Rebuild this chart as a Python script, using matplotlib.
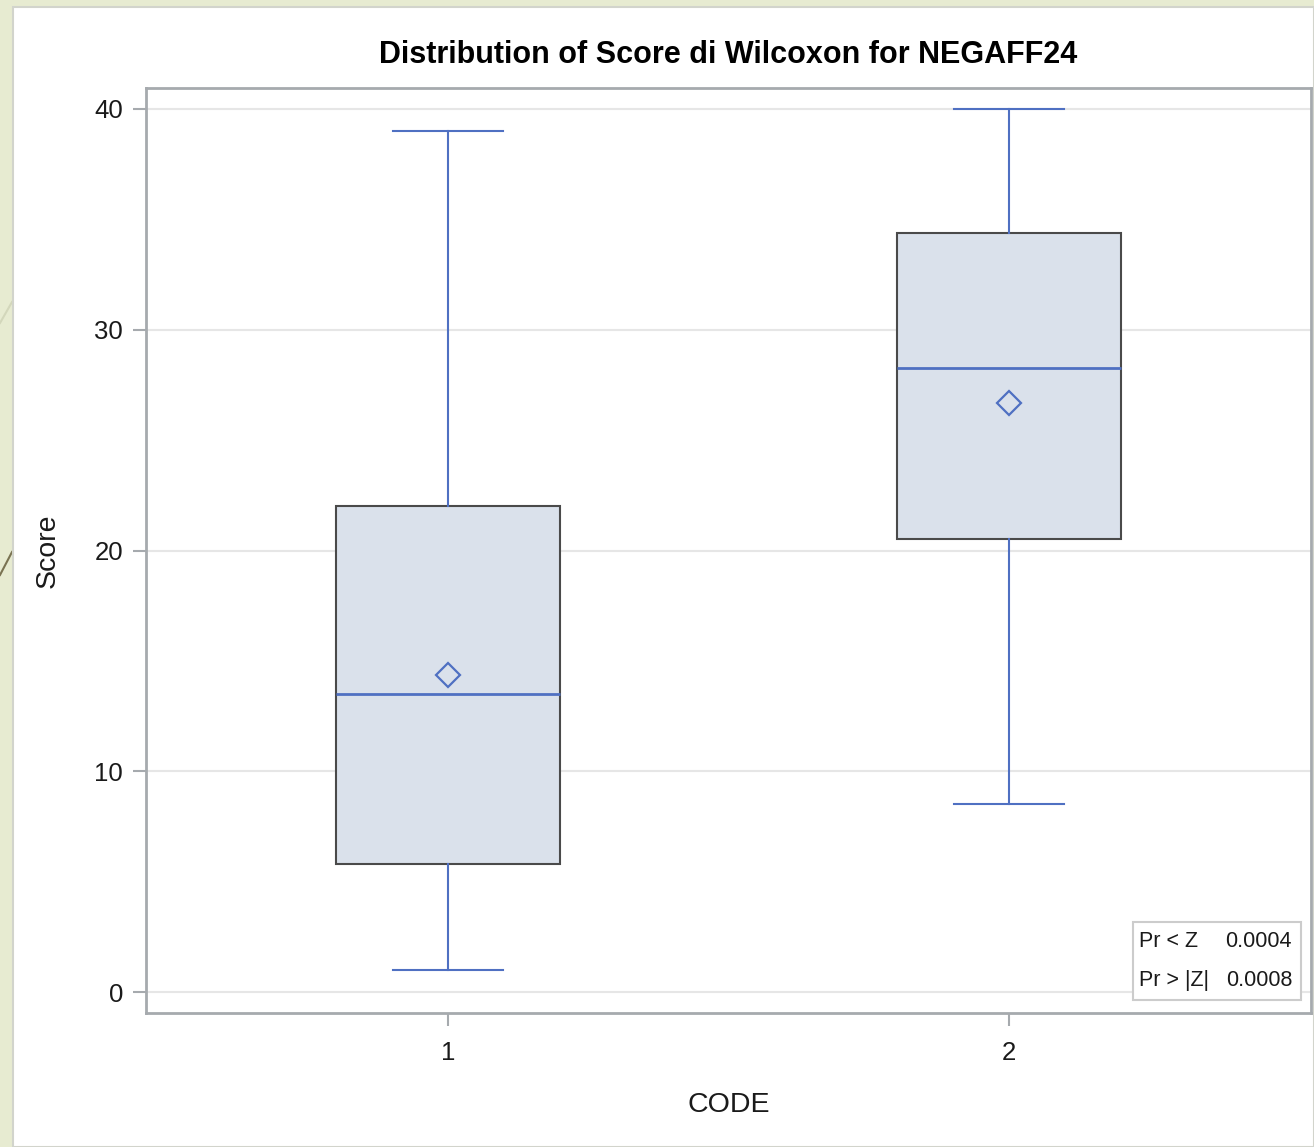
import matplotlib
matplotlib.use("Agg")
import matplotlib.pyplot as plt
from matplotlib.patches import Rectangle
from matplotlib.lines import Line2D

# Wilcoxon score summary per CODE group
codes = ["1", "2"]
whisker_low = [1.0, 8.5]
q1 = [5.8, 20.5]
median = [13.5, 28.25]
q3 = [22.0, 34.4]
whisker_high = [39.0, 40.0]
means = [14.35, 26.7]

# test statistics shown in the inset
p_labels = ["Pr < Z", "Pr > |Z|"]
p_values = [0.0004, 0.0008]

W, H = 1314, 1147
BLUE = "#4f70c2"
GREY = "#a6aaae"
INK = "#1a1a1a"

plt.rcParams["font.family"] = ["Liberation Sans", "DejaVu Sans"]

fig = plt.figure(figsize=(W / 100, H / 100), dpi=100)
fig.patch.set_facecolor("#e7ebd1")


def fx(x):
    return x / W


def fy(y):
    return 1 - y / H


# slide decoration on the left strip
fig.add_artist(Line2D([0, fx(12)], [fy(323), fy(302)], transform=fig.transFigure,
                      color="#d3d7bb", lw=1.5, zorder=0))
fig.add_artist(Line2D([0, fx(12)], [fy(575), fy(552)], transform=fig.transFigure,
                      color="#7a7352", lw=1.5, zorder=0))

# white output panel
fig.add_artist(Rectangle((fx(13), 0), (W - 13) / W, (H - 7) / H, transform=fig.transFigure,
                         facecolor="white", edgecolor="#d2d4cc", lw=1.5, zorder=0))

ax = fig.add_axes([fx(146), fy(1013), (1311 - 146) / W, (1013 - 88) / H])
ax.set_facecolor("white")

stats = []
for i, c in enumerate(codes):
    stats.append(dict(label=c, whislo=whisker_low[i], q1=q1[i], med=median[i],
                      q3=q3[i], whishi=whisker_high[i], mean=means[i], fliers=[]))

ax.bxp(stats, positions=[1, 2], widths=0.4, capwidths=0.196, showmeans=True,
       showfliers=False, patch_artist=True,
       boxprops=dict(facecolor="#dae1eb", edgecolor="#4a4a4a", lw=1.5),
       whiskerprops=dict(color=BLUE, lw=1.5),
       capprops=dict(color=BLUE, lw=1.5),
       medianprops=dict(color=BLUE, lw=2),
       meanprops=dict(marker="D", markerfacecolor="none", markeredgecolor=BLUE,
                      markersize=12, markeredgewidth=1.6))

ax.set_xlim(0.462, 2.538)
ax.set_ylim(-0.95, 40.95)
ax.set_yticks([0, 10, 20, 30, 40])
ax.yaxis.grid(True, color="#e6e6e6", lw=1.5)
ax.set_axisbelow(True)

for s in ax.spines.values():
    s.set_color(GREY)
    s.set_linewidth(2)

ax.tick_params(axis="both", length=9.5, width=1.5, color=GREY, labelsize=18.5,
               labelcolor=INK)
ax.tick_params(axis="y", pad=7)
ax.tick_params(axis="x", pad=11)

ax.set_title("Distribution of Score di Wilcoxon for NEGAFF24", fontsize=22,
             fontweight="bold", pad=18)
ax.set_xlabel("CODE", fontsize=20.5, va="center", color=INK)
ax.xaxis.set_label_coords(0.5, -0.0995)
ax.set_ylabel("Score", fontsize=20.5, va="center", color=INK)
ax.yaxis.set_label_coords(-0.084, 0.5)

# p-value inset
ax.add_patch(Rectangle((0.847, 0.014), 0.1444, 0.0844, transform=ax.transAxes,
                       facecolor="white", edgecolor="#cccccc", lw=1.5, zorder=5))
for lab, val, y in zip(p_labels, p_values, [0.0768, 0.0346]):
    ax.text(0.8524, y, lab, transform=ax.transAxes, fontsize=15.5, ha="left",
            va="center", color=INK, zorder=6)
    ax.text(0.9837, y, f"{val:.4f}", transform=ax.transAxes, fontsize=15.5,
            ha="right", va="center", color=INK, zorder=6)

fig.savefig("out.png", dpi=100, facecolor=fig.get_facecolor())
